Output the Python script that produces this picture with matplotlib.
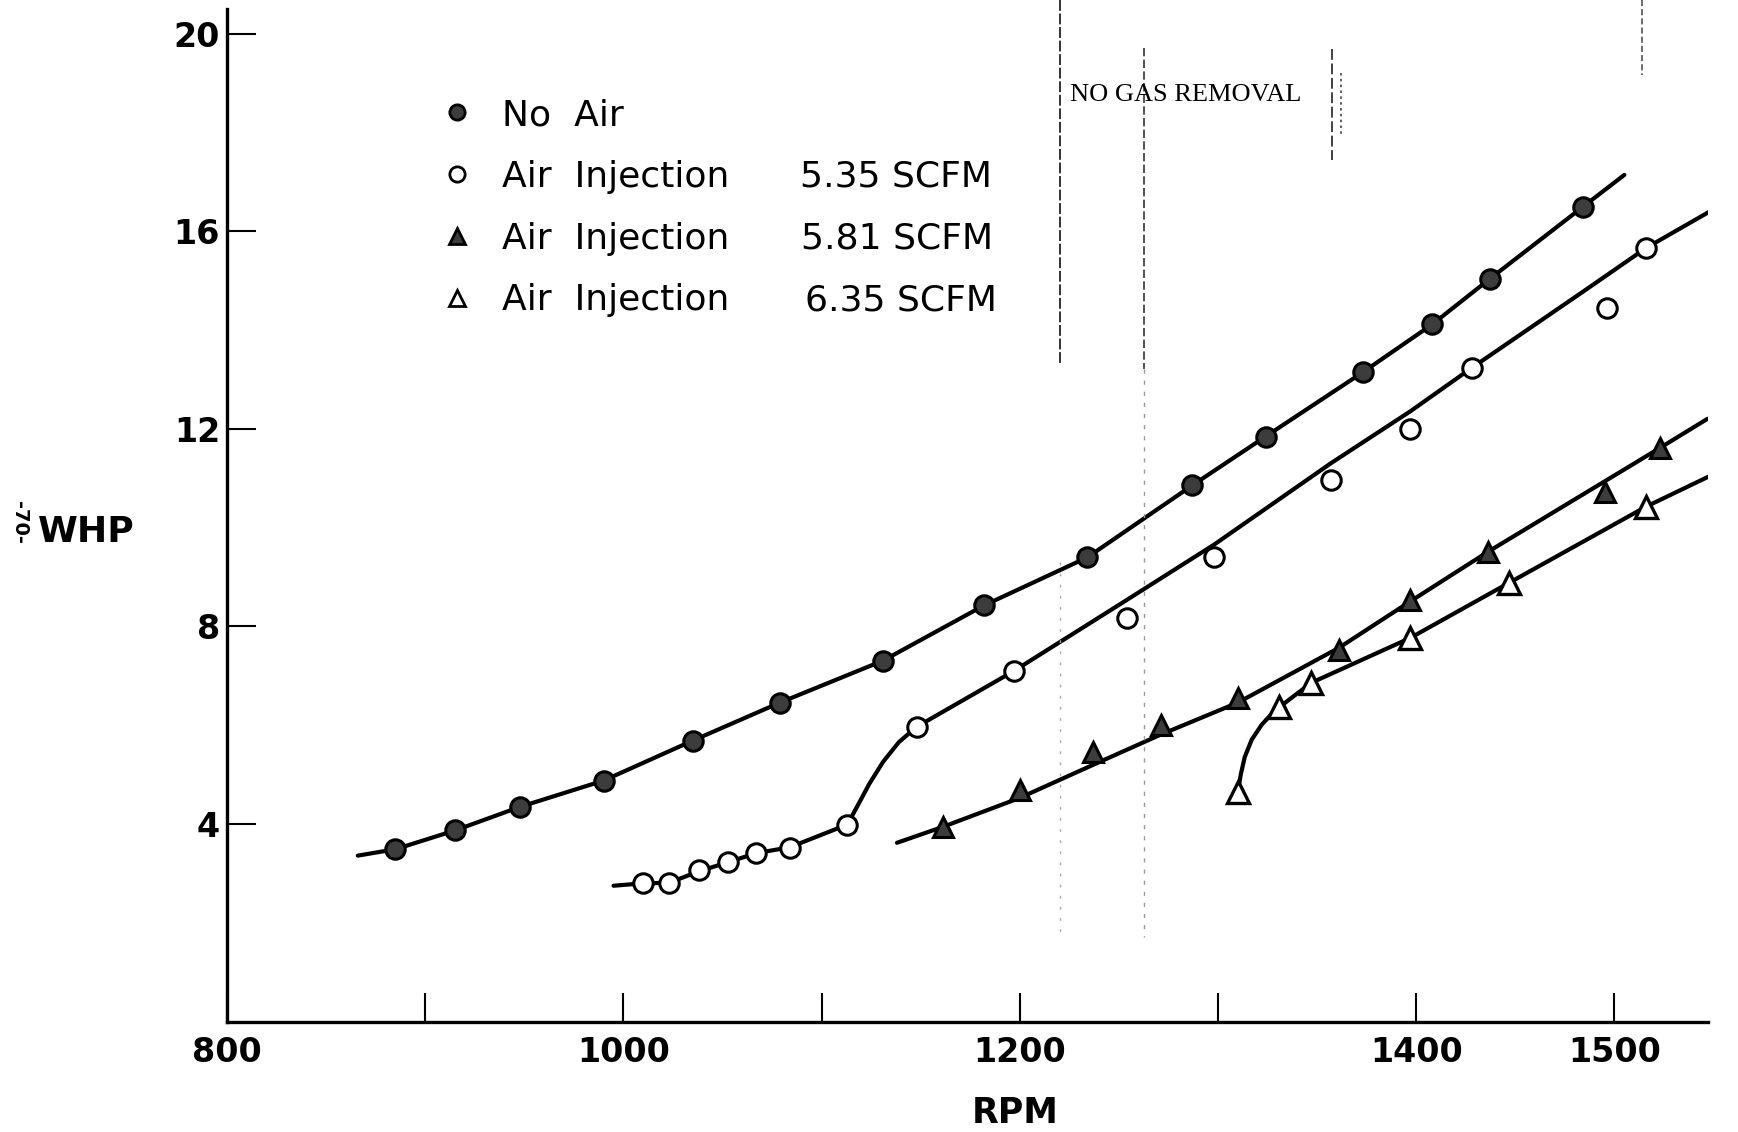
import matplotlib
matplotlib.use("Agg")
import matplotlib.pyplot as plt
from matplotlib.lines import Line2D

# ---------------- data ----------------
no_air_rpm = [885, 915, 948, 990, 1035, 1079, 1131, 1182, 1234, 1287, 1324, 1373, 1408, 1437, 1484]
no_air_whp = [3.48, 3.86, 4.34, 4.87, 5.68, 6.45, 7.30, 8.42, 9.39, 10.85, 11.84, 13.14, 14.11, 15.03, 16.49]
no_air_fit_rpm = [866, 885, 915, 948, 990, 1035, 1079, 1131, 1182, 1234, 1287, 1324, 1373, 1408, 1437, 1484, 1505]
no_air_fit_whp = [3.35, 3.48, 3.86, 4.34, 4.87, 5.68, 6.45, 7.30, 8.42, 9.39, 10.85, 11.84, 13.14, 14.11, 15.03, 16.49, 17.14]

air535_rpm = [1010, 1023, 1038, 1053, 1067, 1084, 1113, 1148, 1197, 1254, 1298, 1357, 1397, 1428, 1496, 1516]
air535_whp = [2.79, 2.79, 3.05, 3.23, 3.41, 3.50, 3.98, 5.96, 7.09, 8.17, 9.40, 10.96, 11.99, 13.23, 14.44, 15.66]
air535_fit_rpm = [995, 1010, 1023, 1038, 1053, 1067, 1084, 1113, 1118, 1124, 1131, 1139, 1148, 1197, 1254, 1298, 1357, 1397, 1428, 1484, 1516, 1556]
air535_fit_whp = [2.74, 2.79, 2.80, 3.03, 3.22, 3.40, 3.52, 3.98, 4.35, 4.80, 5.25, 5.65, 5.96, 7.09, 8.53, 9.65, 11.30, 12.35, 13.23, 14.77, 15.66, 16.58]

air581_rpm = [1161, 1200, 1237, 1271, 1310, 1361, 1397, 1436, 1495, 1523]
air581_whp = [3.93, 4.68, 5.45, 6.00, 6.55, 7.52, 8.53, 9.50, 10.71, 11.61]
air581_fit_rpm = [1138, 1161, 1200, 1237, 1271, 1310, 1361, 1397, 1436, 1495, 1523, 1547]
air581_fit_whp = [3.61, 3.93, 4.52, 5.19, 5.80, 6.45, 7.56, 8.50, 9.50, 10.93, 11.61, 12.20]

air635_rpm = [1310, 1331, 1347, 1397, 1447, 1516]
air635_whp = [4.64, 6.36, 6.85, 7.76, 8.88, 10.42]
air635_fit_rpm = [1310, 1311.5, 1313.5, 1317, 1322, 1327, 1331, 1347, 1397, 1447, 1516, 1559]
air635_fit_whp = [4.64, 5.00, 5.35, 5.70, 6.00, 6.22, 6.36, 6.85, 7.76, 8.88, 10.42, 11.25]

legend_labels = ["No  Air", "Air  Injection", "Air  Injection", "Air  Injection"]
legend_values = ["", "5.35 SCFM", "5.81 SCFM", "6.35 SCFM"]

x_ticks = [800, 900, 1000, 1100, 1200, 1300, 1400, 1500]
x_tick_labels = ["800", "", "1000", "", "1200", "", "1400", "1500"]
y_ticks = [4, 8, 12, 16, 20]
y_tick_labels = ["4", "8", "12", "16", "20"]

# ---------------- figure ----------------
W, H = 1738, 1132
fig = plt.figure(figsize=(W / 100, H / 100), dpi=100)
ax = fig.add_axes([227 / W, 110 / H, 1481 / W, 1013 / H])
ax.set_xlim(800, 1547.2)
ax.set_ylim(-0.02, 20.5)

lw = 3.0
ms = 13
face = "#3c3c3c"

for fx, fy in [(no_air_fit_rpm, no_air_fit_whp), (air535_fit_rpm, air535_fit_whp),
               (air581_fit_rpm, air581_fit_whp), (air635_fit_rpm, air635_fit_whp)]:
    ax.plot(fx, fy, color="black", lw=lw, solid_capstyle="round", solid_joinstyle="round", zorder=2)

ax.plot(no_air_rpm, no_air_whp, ls="none", marker="o", ms=ms + 1, mfc=face, mec="black", mew=2.2, zorder=3)
ax.plot(air535_rpm, air535_whp, ls="none", marker="o", ms=ms + 1, mfc="white", mec="black", mew=2.2, zorder=3)
ax.plot(air581_rpm, air581_whp, ls="none", marker="^", ms=ms + 2, mfc=face, mec="black", mew=2.2, zorder=3)
ax.plot(air635_rpm, air635_whp, ls="none", marker="^", ms=ms + 3, mfc="white", mec="black", mew=2.4, zorder=3)

# scanned annotation lines (vertical marks) and note
ax.plot([1220.3, 1220.3], [20.69, 13.33], color="#222", lw=1.3, ls=(0, (6, 1.5)), clip_on=False)
ax.plot([1220.3, 1220.3], [9.3, 1.7], color="#aaa", lw=1.0, ls=(0, (2, 6)), clip_on=False)
ax.plot([1262.7, 1262.7], [19.7, 13.2], color="#333", lw=1.2, ls=(0, (5, 2)), clip_on=False)
ax.plot([1262.7, 1262.7], [13.2, 1.7], color="#999", lw=1.0, ls=(0, (3, 5)), clip_on=False)
ax.plot([1357.5, 1357.5], [19.68, 17.45], color="#333", lw=1.3, ls=(0, (6, 2)), clip_on=False)
ax.plot([1362.0, 1362.0], [19.21, 17.91], color="#444", lw=1.2, ls=(0, (1.5, 2)), clip_on=False)
ax.plot([1514.0, 1514.0], [20.69, 19.17], color="#444", lw=1.1, ls=(0, (4, 2)), clip_on=False)
ax.text(1225.3, 18.75, "NO GAS REMOVAL", family="Liberation Serif", fontsize=19, ha="left", va="center")

# axes styling
for s in ("top", "right"):
    ax.spines[s].set_visible(False)
for s in ("left", "bottom"):
    ax.spines[s].set_linewidth(2.4)
ax.set_xticks(x_ticks)
ax.set_xticklabels(x_tick_labels)
ax.set_yticks(y_ticks)
ax.set_yticklabels(y_tick_labels)
ax.tick_params(axis="both", direction="in", length=21, width=1.5, labelsize=24)
ax.tick_params(axis="x", pad=10)
ax.tick_params(axis="y", pad=5)
for lab in ax.get_xticklabels() + ax.get_yticklabels():
    lab.set_fontweight("bold")

ax.set_xlabel("RPM", fontsize=25, fontweight="bold")
ax.xaxis.set_label_coords((1015 - 227) / 1481, (1022 - 1096) / 1013)
ax.set_ylabel("WHP", fontsize=26, fontweight="bold", rotation=0, ha="center", va="center")
ax.yaxis.set_label_coords((86 - 227) / 1481, (1022 - 532) / 1013)
fig.text(19 / W, 1 - 522 / H, "-70-", rotation=270, fontsize=14, weight="bold", ha="center", va="center")

# legend
handles = [
    Line2D([], [], ls="none", marker="o", ms=11, mfc=face, mec="black", mew=2),
    Line2D([], [], ls="none", marker="o", ms=11, mfc="white", mec="black", mew=2),
    Line2D([], [], ls="none", marker="^", ms=12, mfc=face, mec="black", mew=2),
    Line2D([], [], ls="none", marker="^", ms=12, mfc="white", mec="black", mew=2),
]
leg = ax.legend(handles, legend_labels, loc="upper left", bbox_to_anchor=(439 / W, 1 - 98 / H),
                bbox_transform=fig.transFigure, frameon=False, fontsize=26, handlelength=1.0,
                handletextpad=0.75, labelspacing=0.77, borderpad=0, borderaxespad=0)

fig.canvas.draw()
val_x = [0, 800, 801, 805]
for t, v, xp in zip(leg.get_texts(), legend_values, val_x):
    if not v:
        continue
    bb = t.get_window_extent()
    fig.text(xp / W, (bb.y0 + bb.y1) / 2 / H, v, fontsize=26, ha="left", va="center")

fig.savefig("out.png", dpi=100)
